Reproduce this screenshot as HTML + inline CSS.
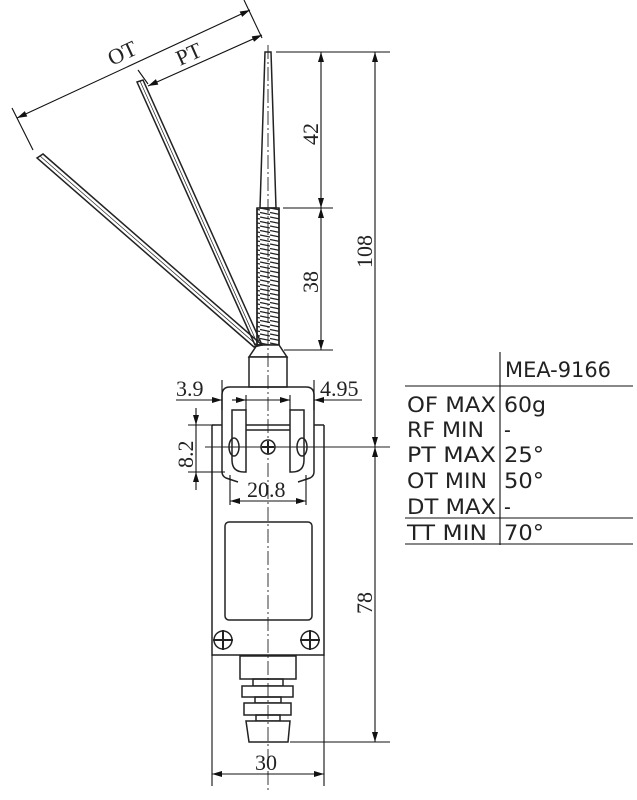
<!DOCTYPE html>
<html><head><meta charset="utf-8"><style>
html,body{margin:0;padding:0;background:#fff;width:637px;height:800px;overflow:hidden}
svg{display:block}
.t{font-family:"Liberation Serif",serif;font-size:22px;fill:#222}
.s{font-family:"DejaVu Sans Condensed","DejaVu Sans","Liberation Sans",sans-serif;font-size:21px;fill:#222}
</style></head><body>
<svg width="637" height="800" viewBox="0 0 637 800" xmlns="http://www.w3.org/2000/svg">
<defs>
<pattern id="coil" width="10" height="4.5" patternUnits="userSpaceOnUse">
<line x1="0" y1="1" x2="10" y2="3" stroke="#222" stroke-width="1.2"/>
</pattern>
<marker id="a" viewBox="0 0 10 6" refX="10" refY="3" markerWidth="11" markerHeight="6" orient="auto-start-reverse" markerUnits="userSpaceOnUse"><path d="M0,0L10,3L0,6z" fill="#111"/></marker>
</defs>
<g stroke="#222" stroke-width="1.5" fill="none">
<path d="M265,52 L271,52 L276,208 L260,208 Z" fill="#fff"/>
<rect x="257" y="208" width="22" height="137" fill="url(#coil)"/>
<line x1="257" y1="208" x2="257" y2="345"/><line x1="279" y1="208" x2="279" y2="345"/>
<path d="M257,345 L279,345 L287,357 L249,357 Z" fill="#fff"/>
<path d="M137,82 L143,80 L262,345 L255,345 Z"/>
<line x1="140" y1="81" x2="258" y2="345" stroke-width="0.7"/>
<path d="M37,158 L43,154 L262,345 L254,347 Z"/>
<line x1="40" y1="156" x2="258" y2="346" stroke-width="0.7"/>
<rect x="249" y="357" width="38" height="30" fill="#fff"/>
<path d="M222,472 L222,395 Q222,387 230,387 L306,387 Q314,387 314,395 L314,472"/>
<path d="M232,410 L232,460 Q232,472 244,472 L246,472 L246,410 Z" fill="#fff"/>
<path d="M304,410 L304,460 Q304,472 292,472 L290,472 L290,410 Z" fill="#fff"/>
<line x1="246" y1="425" x2="290" y2="425"/>
<line x1="246" y1="430" x2="290" y2="430"/>
<path d="M212,425 L222,425 M314,425 L324,425 M212,425 L212,655 L324,655 L324,425"/>
<path d="M222,472 Q222,476 226,478 L238,482 M314,472 Q314,476 310,478 L298,482"/>
<rect x="225" y="522" width="87" height="98" rx="4"/>
<ellipse cx="234" cy="447" rx="5" ry="9"/><ellipse cx="302" cy="447" rx="5" ry="9"/>
<circle cx="268" cy="447" r="7"/><path d="M262,447h12M268,441v12" stroke-width="2"/>
<circle cx="223" cy="640" r="9"/><path d="M213,640h20M223,630v20" stroke-width="2"/>
<circle cx="310" cy="640" r="9"/><path d="M300,640h20M310,630v20" stroke-width="2"/>
<line x1="205" y1="447" x2="390" y2="447" stroke-width="1.1"/>
<rect x="240" y="656" width="56" height="23" fill="#fff"/>
<rect x="253" y="679" width="30" height="7"/>
<rect x="242" y="686" width="51" height="11" fill="#fff"/>
<rect x="255" y="697" width="26" height="6"/>
<rect x="244" y="703" width="47" height="12" fill="#fff"/>
<rect x="256" y="715" width="24" height="6"/>
<path d="M246,721 L290,721 L288,742 L249,742 Z" fill="#fff"/>
<line x1="268" y1="45" x2="268" y2="790" stroke-dasharray="14,3,2,3" stroke-width="0.9"/>
</g>
<g stroke="#111" stroke-width="1.1">
<line x1="33" y1="150" x2="12" y2="108"/><line x1="262" y1="38" x2="244" y2="0"/>
<line x1="148" y1="84" x2="138" y2="70"/>
<line x1="17" y1="118" x2="250" y2="10" marker-start="url(#a)" marker-end="url(#a)"/>
<line x1="148" y1="86" x2="262" y2="35" marker-start="url(#a)" marker-end="url(#a)"/>
<line x1="276" y1="52" x2="390" y2="52"/>
<line x1="283" y1="208" x2="333" y2="208"/>
<line x1="284" y1="350" x2="333" y2="350"/>
<line x1="290" y1="742" x2="390" y2="742"/>
<line x1="321" y1="52" x2="321" y2="208" marker-start="url(#a)" marker-end="url(#a)"/>
<line x1="321" y1="208" x2="321" y2="350" marker-start="url(#a)" marker-end="url(#a)"/>
<line x1="375" y1="52" x2="375" y2="447" marker-start="url(#a)" marker-end="url(#a)"/>
<line x1="375" y1="447" x2="375" y2="742" marker-start="url(#a)" marker-end="url(#a)"/>
<line x1="222" y1="380" x2="222" y2="410"/><line x1="246" y1="395" x2="246" y2="410"/>
<line x1="314" y1="380" x2="314" y2="410"/><line x1="290" y1="395" x2="290" y2="410"/>
<line x1="176" y1="400" x2="222" y2="400" marker-end="url(#a)"/>
<line x1="232" y1="400" x2="246" y2="400" marker-end="url(#a)"/>
<line x1="246" y1="400" x2="283" y2="400"/>
<line x1="280" y1="400" x2="290" y2="400" marker-end="url(#a)"/>
<line x1="340" y1="400" x2="314" y2="400" marker-end="url(#a)"/>
<line x1="340" y1="400" x2="362" y2="400"/>
<line x1="188" y1="425" x2="215" y2="425"/><line x1="188" y1="472" x2="225" y2="472"/>
<line x1="196" y1="408" x2="196" y2="425" marker-end="url(#a)"/>
<line x1="196" y1="490" x2="196" y2="472" marker-end="url(#a)"/>
<line x1="196" y1="425" x2="196" y2="472"/>
<line x1="230" y1="475" x2="230" y2="505"/><line x1="306" y1="475" x2="306" y2="505"/>
<line x1="230" y1="501" x2="306" y2="501" marker-start="url(#a)" marker-end="url(#a)"/>
<line x1="212" y1="655" x2="212" y2="786"/><line x1="324" y1="655" x2="324" y2="786"/>
<line x1="212" y1="774" x2="324" y2="774" marker-start="url(#a)" marker-end="url(#a)"/>
<line x1="500" y1="352" x2="500" y2="545"/>
<line x1="405" y1="386" x2="633" y2="386"/>
<line x1="405" y1="518" x2="633" y2="518"/>
<line x1="405" y1="544" x2="633" y2="544"/>
</g>
<g class="t">
<text transform="translate(112,66) rotate(-25)">OT</text>
<text transform="translate(180,66) rotate(-24)">PT</text>
<text transform="translate(318,145) rotate(-90)">42</text>
<text transform="translate(318,293) rotate(-90)">38</text>
<text transform="translate(372,268) rotate(-90)">108</text>
<text transform="translate(372,614) rotate(-90)">78</text>
<text transform="translate(193,468) rotate(-90)">8.2</text>
<text x="176" y="396">3.9</text>
<text x="320" y="396">4.95</text>
<text x="247" y="497">20.8</text>
<text x="255" y="770">30</text>
</g>
<g class="s">
<text x="505" y="377" textLength="106" lengthAdjust="spacingAndGlyphs">MEA-9166</text>
<text x="407" y="412" textLength="89" lengthAdjust="spacingAndGlyphs">OF MAX</text><text x="504" y="412" textLength="42" lengthAdjust="spacingAndGlyphs">60g</text>
<text x="407" y="437" textLength="77" lengthAdjust="spacingAndGlyphs">RF MIN</text><text x="504" y="437">-</text>
<text x="407" y="462" textLength="89" lengthAdjust="spacingAndGlyphs">PT MAX</text><text x="504" y="462" textLength="40" lengthAdjust="spacingAndGlyphs">25°</text>
<text x="407" y="488" textLength="80" lengthAdjust="spacingAndGlyphs">OT MIN</text><text x="504" y="488" textLength="40" lengthAdjust="spacingAndGlyphs">50°</text>
<text x="407" y="514" textLength="89" lengthAdjust="spacingAndGlyphs">DT MAX</text><text x="504" y="514">-</text>
<text x="407" y="540" textLength="80" lengthAdjust="spacingAndGlyphs">TT MIN</text><text x="504" y="540" textLength="40" lengthAdjust="spacingAndGlyphs">70°</text>
</g>
</svg>
</body></html>
